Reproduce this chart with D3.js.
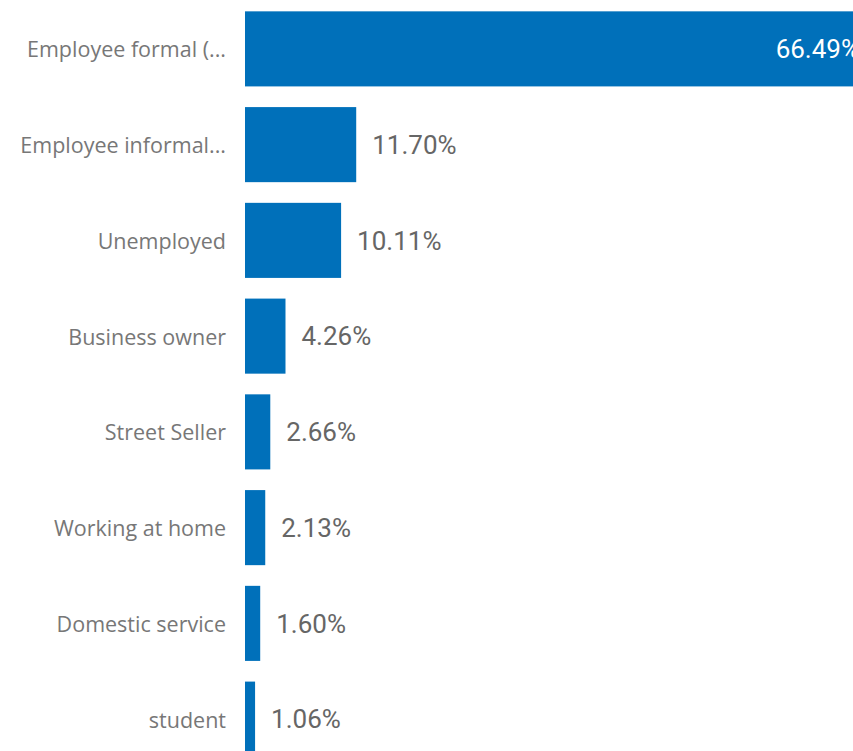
<!DOCTYPE html>
<meta charset="utf-8">
<style>
  body { margin: 0; background: #fff; overflow: hidden; }
  .cat { font-family: 'Open Sans', sans-serif; font-size: 21.5px; fill: #777; }
  .val { font-family: 'Roboto', sans-serif; font-size: 26px; font-weight: 400; fill: #666; }
</style>
<svg width="853" height="751"></svg>
<script src="https://cdnjs.cloudflare.com/ajax/libs/d3/7.8.5/d3.min.js"></script>
<script>
var categories = ["Employee formal (...", "Employee informal...", "Unemployed", "Business owner",
                  "Street Seller", "Working at home", "Domestic service", "student"];
var values = [66.49, 11.70, 10.11, 4.26, 2.66, 2.13, 1.60, 1.06];

var svg = d3.select("svg"),
    width = +svg.attr("width"),
    height = +svg.attr("height");

var left = 245;

// bars run past the right edge, the big one is clipped like in the source
var x = d3.scaleLinear().domain([0, 66.49]).range([left, left + 632]);
var y = d3.scaleBand().domain(categories).range([1, 767])
    .paddingInner(0.216).paddingOuter(0.108);

var rows = svg.selectAll("g.row")
    .data(categories)
    .enter().append("g")
    .attr("class", "row");

rows.append("rect")
    .attr("x", x(0))
    .attr("y", function(d) { return y(d); })
    .attr("width", function(d, i) { return x(values[i]) - x(0); })
    .attr("height", y.bandwidth())
    .attr("fill", "#0070BA");

rows.append("text")
    .attr("class", "cat")
    .attr("x", left - 19)
    .attr("y", function(d) { return y(d) + y.bandwidth() / 2; })
    .attr("dy", "0.4em")
    .attr("text-anchor", "end")
    .text(function(d) { return d; });

rows.append("text")
    .attr("class", "val")
    .attr("x", function(d, i) { return i == 0 ? x(values[i]) - 17 : x(values[i]) + 16; })
    .attr("y", function(d) { return y(d) + y.bandwidth() / 2; })
    .attr("dy", "0.36em")
    .attr("text-anchor", function(d, i) { return i == 0 ? "end" : "start"; })
    .style("fill", function(d, i) { return i == 0 ? "#fff" : null; })
    .text(function(d, i) { return values[i].toFixed(2) + "%"; });
</script>
